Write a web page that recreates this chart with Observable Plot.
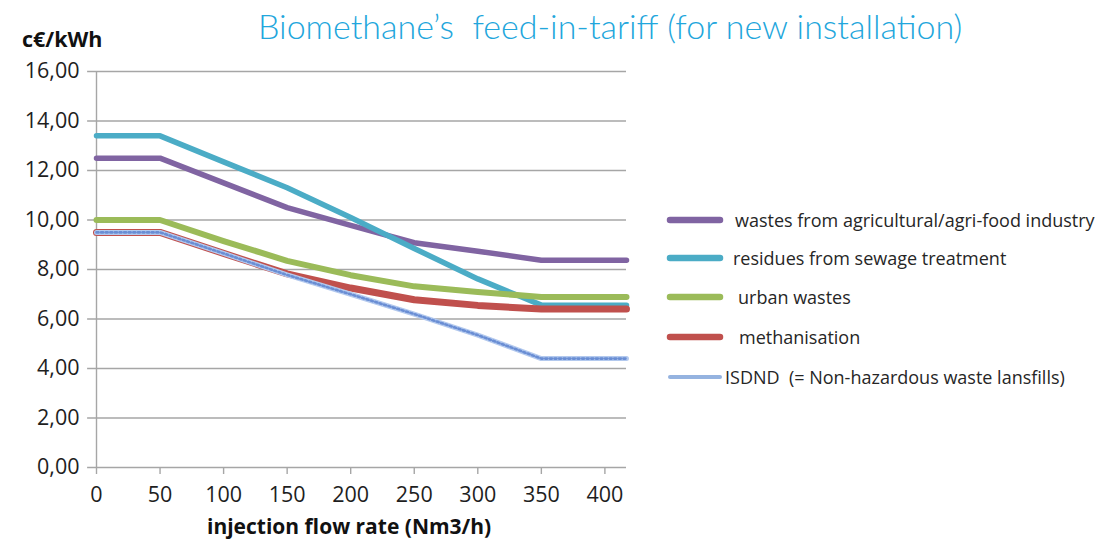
<!DOCTYPE html>
<html>
<head>
<meta charset="utf-8">
<script src="https://cdn.jsdelivr.net/npm/d3@7"></script>
<script src="https://cdn.jsdelivr.net/npm/@observablehq/plot@0.6"></script>
<style>
  html, body { margin: 0; padding: 0; background: #fff; }
  #wrap { position: relative; width: 1103px; height: 540px; overflow: hidden; font-family: "Open Sans", sans-serif; }
  #chart { position: absolute; left: 0; top: 0; }
  .abs { position: absolute; white-space: pre; }
  #title { left: 258px; top: 5px; font-family: Lato, sans-serif; font-weight: 300; font-size: 34px; color: #22a6dc; }
  #ylab { left: 22px; top: 24px; font-weight: 700; font-size: 21.5px; color: #111; }
  #xlab { left: 207px; top: 512px; font-weight: 700; font-size: 21px; color: #111; }
  .leg { position: absolute; left: 666px; height: 24px; display: flex; align-items: center; font-size: 18px; color: #262626; white-space: pre; }
  .leg svg { flex: none; }
</style>
</head>
<body>
<div id="wrap">
  <div id="chart"></div>
  <div id="title" class="abs">Biomethane’s  feed-in-tariff (for new installation)</div>
  <div id="ylab" class="abs">c€/kWh</div>
  <div id="xlab" class="abs">injection flow rate (Nm3/h)</div>
  <div id="legend"></div>
</div>
<script>
// ---- data ----
const flowRates     = [0, 50, 100, 150, 200, 250, 300, 350, 417];
const agricultural  = [12.5, 12.5, 11.5, 10.5, 9.78, 9.08, 8.74, 8.37, 8.37];
const sewage        = [13.4, 13.4, 12.35, 11.3, 10.1, 8.85, 7.62, 6.56, 6.56];
const urban         = [10.0, 10.0, 9.15, 8.35, 7.77, 7.32, 7.09, 6.89, 6.89];
const methanisation = [9.5, 9.5, 8.65, 7.82, 7.25, 6.78, 6.55, 6.4, 6.4];
const isdnd         = [9.5, 9.5, 8.65, 7.78, 7.0, 6.2, 5.35, 4.4, 4.4];
const seriesNames = [
  "wastes from agricultural/agri-food industry",
  "residues from sewage treatment",
  "urban wastes",
  "methanisation",
  "ISDND  (= Non-hazardous waste lansfills)"
];
const seriesValues = [agricultural, sewage, urban, methanisation, isdnd];
const seriesColors = ["#8064a2", "#4bacc6", "#9bbb59", "#c0504d", "#95b3e0"];
const xTicks = [0, 50, 100, 150, 200, 250, 300, 350, 400];
const yTicks = [0, 2, 4, 6, 8, 10, 12, 14, 16];

const rows = seriesNames.flatMap((name, i) =>
  flowRates.map((x, j) => ({series: name, x, y: seriesValues[i][j]})));
const sel = (i) => rows.filter(d => d.series === seriesNames[i]);

const grid = "#a6a6a6";
const chart = Plot.plot({
  width: 1103,
  height: 540,
  marginLeft: 96,
  marginRight: 477,
  marginTop: 71,
  marginBottom: 73,
  style: {fontFamily: "Open Sans, sans-serif", background: "transparent"},
  x: {domain: [0, 417]},
  y: {domain: [0, 16]},
  marks: [
    Plot.ruleY(yTicks, {y: d => d, x1: -7, x2: 417, stroke: grid, strokeWidth: 1.4}),
    Plot.ruleX([0], {y1: 0, y2: 16, stroke: grid, strokeWidth: 1.4}),
    Plot.axisY(yTicks, {tickSize: 0, tickPadding: 17, fontSize: 21.5, fill: "#1e1e1e",
      tickFormat: d => d.toFixed(2).replace(".", ","), label: null}),
    Plot.axisX(xTicks, {tickSize: 7, stroke: grid, strokeWidth: 1.4, tickPadding: 12, fontSize: 21.5,
      fill: "#1e1e1e", label: null}),
    Plot.line(sel(0), {x: "x", y: "y", stroke: seriesColors[0], strokeWidth: 5.5, strokeLinejoin: "round", strokeLinecap: "round"}),
    Plot.line(sel(1), {x: "x", y: "y", stroke: seriesColors[1], strokeWidth: 5.5, strokeLinejoin: "round", strokeLinecap: "round"}),
    Plot.line(sel(2), {x: "x", y: "y", stroke: seriesColors[2], strokeWidth: 6, strokeLinejoin: "round", strokeLinecap: "round"}),
    Plot.line(sel(3), {x: "x", y: "y", stroke: seriesColors[3], strokeWidth: 7, strokeLinejoin: "round", strokeLinecap: "round"}),
    Plot.line(sel(4), {x: "x", y: "y", stroke: "#b3c9ee", strokeWidth: 5, strokeLinejoin: "round"}),
    Plot.line(sel(4), {x: "x", y: "y", stroke: "#6a8ed4", strokeWidth: 2.6, strokeDasharray: "2,2.6"})
  ]
});
document.getElementById("chart").appendChild(chart);

// ---- legend ----
const legTops = [208, 246, 285, 325, 365];
const legGaps = [11, 9, 14, 15, 1];
const legend = document.getElementById("legend");
seriesNames.forEach((name, i) => {
  const row = document.createElement("div");
  row.className = "leg";
  row.style.top = legTops[i] + "px";
  const w = i === 4 ? 4 : 6.5;
  row.innerHTML = `<svg width="58" height="12"><line x1="4" y1="6" x2="54" y2="6" stroke="${seriesColors[i]}" stroke-width="${w}" stroke-linecap="round"/></svg><span style="margin-left:${legGaps[i]}px">${name}</span>`;
  legend.appendChild(row);
});
</script>
</body>
</html>
